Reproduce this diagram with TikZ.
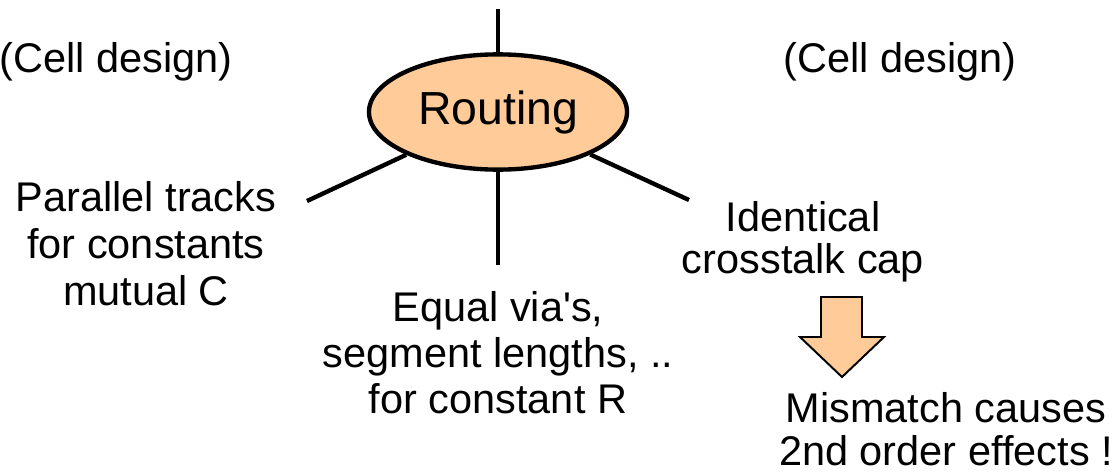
\documentclass[tikz,border=0pt]{standalone}
\usepackage{fontspec}
\setmainfont{Liberation Sans}
\usetikzlibrary{shapes.geometric}
\definecolor{peach}{RGB}{255,204,153}
\tikzset{x=0.025cm, y=-0.025cm,
hub/.style={ % Sets the properties for the centre ellipse
ellipse,
draw,
line width=3.1pt,
fill=peach,
minimum width=6.45cm,
minimum height=2.88cm,
inner sep=0pt,
font=\fontsize{33}{36}\selectfont},
note/.style={ % Sets the properties for the text labels (base = last line)
anchor=base,
align=center,
inner sep=0pt,
font=\fontsize{29.5}{33.4}\selectfont},
spoke/.style={ % Sets the properties for the lines
draw,
line width=3.1pt}}

\begin{document}
\begin{tikzpicture}
\useasboundingbox (0,0) rectangle (1120,474);
\node[hub] (routing) at (498,112) {Routing};
\coordinate (topend) at (498,9);
\coordinate (leftend) at (307,201);
\coordinate (rightend) at (689,200);
\coordinate (downend) at (498,265);
\draw[spoke] (routing) -- (topend);
\draw[spoke] (routing) -- (leftend);
\draw[spoke] (routing) -- (rightend);
\draw[spoke] (routing) -- (downend);
\node[note] (celll) at (116,72) {(Cell design)};
\node[note] (cellr) at (900,72) {(Cell design)};
\node[note] (parallel) at (146,305) {Parallel tracks\\for constants\\mutual C};
\node[note, font=\fontsize{29.5}{32.7}\selectfont] (equal) at (498,413) {Equal via\textquotesingle s,\\segment lengths, ..\\for constant R};
\node[note, font=\fontsize{29.5}{29.5}\selectfont] (identical) at (803,273) {Identical\\crosstalk cap};
\node[note, font=\fontsize{29.5}{29.9}\selectfont] (mismatch) at (946,465) {Mismatch causes\\2nd order effects !};
\draw[line width=1.4pt, fill=peach, line join=miter]
  (821,297) -- (862,297) -- (862,337) -- (884,337) -- (842,377)
  -- (800,337) -- (821,337) -- cycle;
\end{tikzpicture}
\end{document}
